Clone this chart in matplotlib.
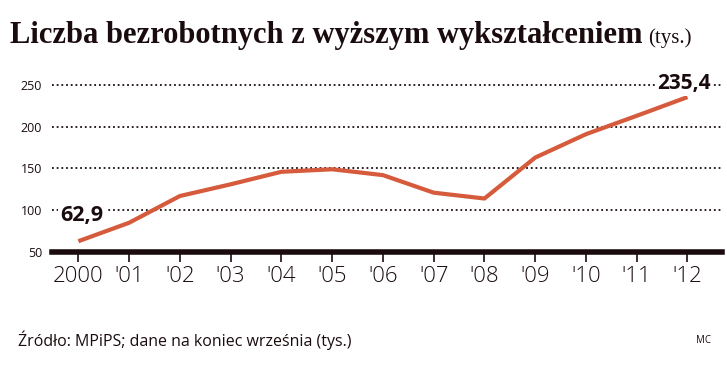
import matplotlib.pyplot as plt

# data (thousands of people)
years = ['2000', "'01", "'02", "'03", "'04", "'05", "'06", "'07", "'08", "'09", "'10", "'11", "'12"]
values = [62.9, 85, 117, 131, 146, 149, 142, 121, 114, 163, 191, 213, 235.4]
y_ticks = [50, 100, 150, 200, 250]

line_color = '#d65a3c'
dark = '#1a0c0e'

fig = plt.figure(figsize=(7.27, 3.75), dpi=100)
ax = fig.add_axes([0.0715, 0.328, 0.9216, 0.459])

x = list(range(len(years)))
ax.plot(x, values, color=line_color, lw=3, solid_capstyle='butt', zorder=3)

ax.set_xlim(-0.52, 12.68)
ax.set_ylim(50, 256)

# dotted grid lines
for v in y_ticks[1:]:
    ax.axhline(v, color=dark, lw=1.3, ls=(0, (1, 1.6)), zorder=1)

for s in ['top', 'right', 'left']:
    ax.spines[s].set_visible(False)
ax.spines['bottom'].set_color(dark)
ax.spines['bottom'].set_linewidth(4)

ax.set_xticks(x)
ax.set_xticklabels(years, fontsize=16, family='Open Sans', fontweight='light', color=dark)
ax.tick_params(axis='x', length=7, width=1.2, color=dark, pad=3)
ax.set_yticks(y_ticks)
ax.set_yticklabels([str(v) for v in y_ticks], fontsize=9, family='Open Sans', color=dark)
ax.tick_params(axis='y', length=0, pad=7)

# value labels at both ends
ax.annotate('62,9', (0, 100), xytext=(-13, -4), textcoords='offset points',
            fontsize=15.5, fontweight='bold', family='Open Sans', color=dark,
            ha='left', va='center',
            bbox=dict(facecolor='white', edgecolor='none', pad=1.5), zorder=4)
ax.annotate('235,4', (12, 250), xytext=(-22, 1), textcoords='offset points',
            fontsize=15, fontweight='bold', family='Open Sans', color=dark,
            ha='left', va='center',
            bbox=dict(facecolor='white', edgecolor='none', pad=1.5), zorder=4)

# title
t = fig.text(0.014, 0.885, 'Liczba bezrobotnych z wyższym wykształceniem',
             fontsize=22, fontweight='bold', family='Liberation Serif', color=dark,
             va='baseline')
fig.canvas.draw()
bb = t.get_window_extent()
fig.text(bb.x1 / fig.bbox.width + 0.008, 0.885, '(tys.)', fontsize=15,
         family='Liberation Serif', color=dark, va='baseline')

fig.text(0.025, 0.093, 'Źródło: MPiPS; dane na koniec września (tys.)',
         fontsize=11.5, family='Open Sans', color=dark, va='center')
fig.text(0.978, 0.093, 'MC', fontsize=7, family='Open Sans', color=dark,
         va='center', ha='right')

fig.savefig('out.png', dpi=100, facecolor='white')
